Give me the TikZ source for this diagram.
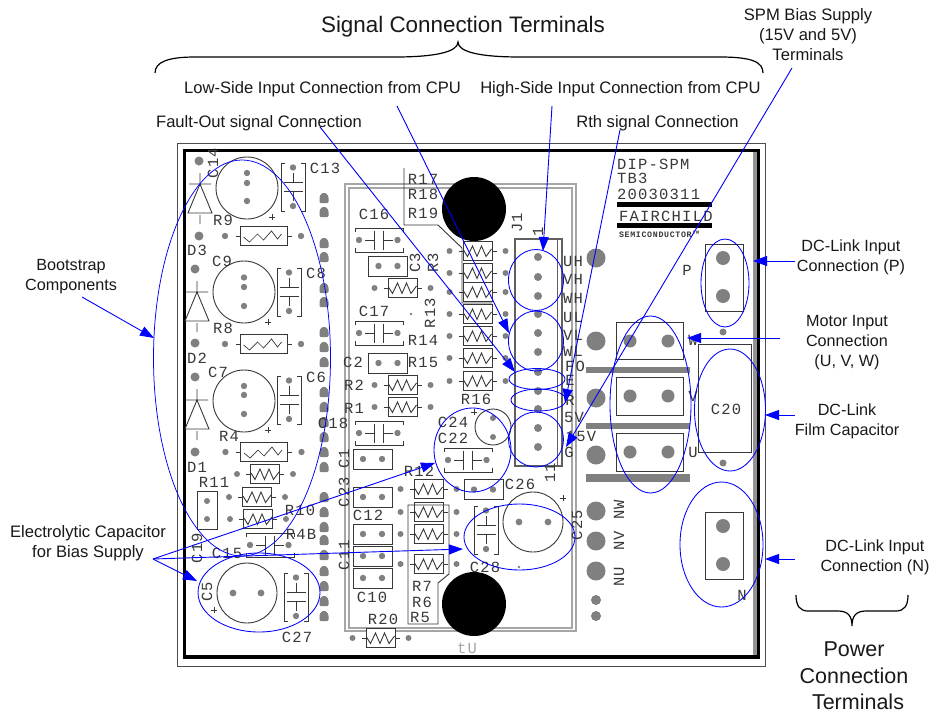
\documentclass[tikz,border=0pt]{standalone}
\usepackage{fontspec}
\setmainfont{Liberation Sans}
\newfontfamily\pcbfont[LetterSpace=8]{Liberation Mono}
\usetikzlibrary{arrows.meta,shapes.geometric}
\definecolor{padgray}{HTML}{808080}
\definecolor{ink}{HTML}{383838}
\definecolor{note}{RGB}{0,0,255}
\tikzset{
  every node/.style={inner sep=0pt,outer sep=0pt},
  pcbline/.style={draw=ink,line width=0.9pt},
  pad/.style={fill=padgray,draw=none},
  pcbtxt/.style={text=ink,font=\pcbfont\fontsize{15.5}{15.5}\selectfont},
  lab/.style={font=\fontsize{16.6}{20}\selectfont,align=center,text=black!90},
  labr/.style={font=\fontsize{16.2}{20}\selectfont,align=center,text=black!90},
  bigl/.style={font=\fontsize{21.5}{26.5}\selectfont,align=center,text=black!90},
  sigl/.style={font=\fontsize{22.4}{26.5}\selectfont,align=center,text=black!90},
  ring/.style={ellipse,draw=note,line width=0.85pt},
  thinarrow/.style={draw=note,line width=0.9pt,-{Triangle[length=14pt,width=10pt,fill=note]}},
  bracecurve/.style={draw=black,line width=1.2pt}
}
% board text
\newcommand\pl[3]{\node[pcbtxt] (t#1) at (#2,#3) {#1};}
\newcommand\plr[3]{\node[pcbtxt,rotate=90] (t#1) at (#2,#3) {#1};}
\newcommand\pcbplus[2]{\draw[pcbline] (#1-3,#2) -- (#1+3,#2) (#1,#2-3) -- (#1,#2+3);}
% pads
\newcommand\padc[3]{\fill[pad] (#1,#2) circle (#3);}
\newcommand\housepad[2]{\fill[pad,rounded corners=1.2pt] (#1-4.5,#2+5) -- (#1+4.5,#2+5) -- (#1+4.5,#2-1.5) -- (#1+2,#2-5) -- (#1-2,#2-5) -- (#1-4.5,#2-1.5) -- cycle;}
% small resistor
\newcommand\rsmall[2]{\begin{scope}[shift={(#1,#2)}]
 \draw[pcbline,fill=white] (-14.5,-9.5) rectangle (14.5,9.5);
 \draw[pcbline] (-19,0) -- (-14.5,0) (14.5,0) -- (19,0);
 \draw[pcbline] (-14,-1) -- (-10,5.5) -- (-5,-5) -- (-0.5,5.5) -- (4,-5) -- (8.5,5.5) -- (14,-2);
 \padc{-28}{0}{3} \padc{28}{0}{3}
\end{scope}}
% wide resistor
\newcommand\rwide[2]{\begin{scope}[shift={(#1,#2)}]
 \draw[pcbline,fill=white] (-23.5,-9.5) rectangle (23.5,9.5);
 \draw[pcbline] (-28,0) -- (-23.5,0) (23.5,0) -- (28,0);
 \draw[pcbline,line width=0.7pt] (-20,1) -- (-14,6) -- (-6,-2) -- (0,4) -- (8,-5) -- (14,3) -- (18,-2);
 \padc{-38.5}{0}{3.2} \padc{37.5}{0}{3.2}
\end{scope}}
% vertical-plate capacitor in bracket, pads above and below
\newcommand\vcapa[2]{\begin{scope}[shift={(#1,#2)}]
 \draw[pcbline] (-8,-24) -- (-12,-24) -- (-12,24) -- (-8,24);
 \draw[pcbline] (8,-24) -- (12,-24) -- (12,24) -- (8,24);
 \draw[pcbline] (-9.5,-4.5) -- (9.5,-4.5) (-9.5,4.5) -- (9.5,4.5) (0,-14) -- (0,-4.5) (0,4.5) -- (0,14);
 \padc{0}{-19.5}{3.2} \padc{0}{19}{3.2}
\end{scope}}
% horizontal capacitor
\newcommand\hcapa[2]{\begin{scope}[shift={(#1,#2)}]
 \draw[pcbline] (-24,-8) -- (-24,-12) -- (24,-12) -- (24,-8);
 \draw[pcbline] (-24,8) -- (-24,12) -- (24,12) -- (24,8);
 \draw[pcbline] (-4.5,-9.5) -- (-4.5,9.5) (4.5,-9.5) -- (4.5,9.5) (-14,0) -- (-4.5,0) (4.5,0) -- (14,0);
 \padc{-20}{0}{3.2} \padc{18.5}{0}{3.2}
\end{scope}}
% two-pad box
\newcommand\boxtwo[2]{\begin{scope}[shift={(#1,#2)}]
 \draw[pcbline] (-19.5,-10) rectangle (19.5,10);
 \padc{-9.5}{0}{3.2} \padc{9.5}{0}{3.2}
\end{scope}}
% diode
\newcommand\diode[2]{\begin{scope}[shift={(#1,#2)}]
 \draw[pcbline] (0,-11) -- (0,0) (-11,0) -- (11,0) (0,0) -- (-12,29) -- (12,29) -- cycle (0,31) -- (0,40);
\end{scope}}
% electrolytic capacitor
\newcommand\ecap[3]{\draw[pcbline] (#1,#2) circle (#3);}
\begin{document}
\begin{tikzpicture}[x=1pt,y=-1pt]
\path[use as bounding box,fill=white] (0,0) rectangle (937,717);
% ---------- board outlines
\draw[draw=black!70,line width=0.9pt] (177.5,143.5) rectangle (765,666);
\fill[gray!85] (753,150) rectangle (757.5,657);
\draw[draw=black,line width=3.6pt] (184.5,150.5) rectangle (758.5,657);
\draw[draw=gray!70,line width=1.1pt] (345,184) rectangle (576,631);
\draw[draw=gray!70,line width=1.1pt] (349,188) rectangle (572,628);
% ---------- black mounting holes
\fill[black] (474,209) circle (32);
\fill[black] (474,604) circle (32);
% ---------- left column
\padc{199}{161}{4.5} \padc{199}{236}{4.5} \padc{195}{269}{4.5} \padc{195}{343}{4.5} \padc{195}{377}{4.5} \padc{195}{452}{4.5}
\diode{200}{184} \diode{197}{292} \diode{197}{400}
\ecap{247}{188}{31} \padc{247}{173}{3.2} \padc{247}{183}{3.2} \padc{247}{201}{3.2} \pcbplus{272}{217}
\ecap{244}{292}{31} \padc{244}{277.5}{3.2} \padc{244}{287}{3.2} \padc{244}{306}{3.2} \pcbplus{268}{322}
\ecap{244}{401}{31} \padc{244}{386}{3.2} \padc{244}{395}{3.2} \padc{244}{414}{3.2} \pcbplus{268}{430}
\vcapa{293}{187} \vcapa{289}{292} \vcapa{289}{400}
\rwide{263.5}{236} \rwide{263.5}{344} \rwide{264}{452}
\rsmall{265}{474} \rsmall{257}{497} \rsmall{258}{519}
\draw[pcbline] (197,491) rectangle (217,529); \padc{207}{501}{3} \padc{207}{519}{3}
\hcapa{270}{545}
\ecap{247}{593}{30} \padc{233}{593}{3.4} \padc{261}{593}{3.4} \pcbplus{214}{610}
\vcapa{296}{597}
% gray house pads
\foreach \yy in {198,212,243,257,288,302,332,347,362,392,407,422,437,452,467,497,512,527,540,555,571,586,601,616} {\housepad{324}{\yy}}
% ---------- centre-left
\hcapa{379}{240} \boxtwo{388}{266} \rsmall{402.5}{288}
\hcapa{379}{333} \padc{411}{314}{1.3} \boxtwo{388}{363} \rsmall{402.5}{385} \rsmall{402.5}{407}
\hcapa{379}{433}
\boxtwo{372.5}{459} \boxtwo{372.5}{497} \boxtwo{372.5}{534} \boxtwo{372.5}{556} \boxtwo{372.5}{578}
\rsmall{380.5}{638}
% ---------- resistor column
\foreach \yy in {251,273,292,314,336,358,381} {\rsmall{477.5}{\yy}}
\draw[pcbline] (404,168) -- (404,225) -- (438,225) -- (462,248) -- (462,303) -- (492,303);
\foreach \yy in {489,512,534,564} {\rsmall{428.5}{\yy}}
\draw[pcbline] (408,505) -- (449,505) -- (449,574) -- (438,583) -- (438,624) -- (408,624) -- cycle;
% ---------- C24, C22, C26, C28
\ecap{493}{427}{18} \padc{493}{418}{3} \padc{493}{437}{3} \pcbplus{474}{412}
\hcapa{468}{460}
\boxtwo{483.5}{489.5}
\ecap{533}{522}{30} \padc{519}{522}{3.4} \padc{548}{522}{3.4} \pcbplus{563}{498}
\vcapa{486}{530} \padc{519}{567}{1.3}
% ---------- J1
\draw[draw=ink!80,line width=1.2pt] (515,239) rectangle (562,466);
\draw[draw=ink!80,line width=1pt] (557,239) -- (557,466);
\foreach \yy in {257,277,296,314,333,352,372,391,409,428,447} {\padc{538}{\yy}{4}}
% large pads and bars
\padc{596}{258}{9.5} \padc{596}{341}{9.5} \padc{596}{398}{9.5} \padc{596}{455}{9.5} \padc{596}{511}{9.5} \padc{596}{541}{9.5} \padc{596}{571}{9.5}
\padc{596}{600}{5} \padc{596}{616}{5}
\fill[padgray] (586,367) rectangle (690,373);
\fill[padgray] (586,423) rectangle (690,429);
\fill[padgray] (586,474) rectangle (690,482);
% ---------- right side terminals
\foreach \ya/\yb/\yp in {322/359/341,377/415/396,433/471/452} {
 \draw[pcbline] (616,\ya) rectangle (683,\yb);
 \padc{630}{\yp}{6.5} \padc{668}{\yp}{6.5}
}
\draw[pcbline] (705,244) rectangle (743,311); \padc{723}{258}{7} \padc{723}{296}{7} \padc{723}{332}{3.5}
\draw[pcbline] (698,344) rectangle (751,452); \padc{723}{463}{3.5}
\draw[pcbline] (705,512) rectangle (743,579); \padc{723}{526}{7} \padc{723}{564}{7}
\fill[black] (617,202) rectangle (712,207);
\fill[black] (617,223) rectangle (712,228);
% ---------- board texts
\pl{C13}{325}{168} \pl{C9}{222}{261} \pl{C8}{316}{273} \pl{C7}{218}{372} \pl{C6}{316}{377}
\pl{D3}{197}{250} \pl{D2}{197}{358} \pl{D1}{197}{467}
\pl{R9}{223}{220} \pl{R8}{223}{328} \pl{R4}{229}{436}
\pl{R11}{214}{482} \pl{R10}{300}{510} \pl{R4B}{301}{534} \pl{C15}{227}{553}
\plr{C14}{213}{163} \plr{C19}{197}{548} \plr{C5}{207}{592} \pl{C27}{297}{637}
\pl{C16}{374}{214} \pl{C17}{374}{311}
\plr{C3}{415}{263} \plr{R3}{433}{263} \plr{R13}{430}{313}
\pl{R14}{423}{340} \pl{R15}{423}{362} \pl{C2}{353}{362} \pl{R2}{354}{385} \pl{R1}{354}{408}
\pl{C18}{333}{423} \plr{C1}{344}{459} \plr{C23}{344}{492} \plr{C11}{344}{555}
\pl{C12}{368}{515} \pl{C10}{372}{597} \pl{R20}{383}{619} \pl{R12}{419}{471}
\pl{R7}{422}{586} \pl{R6}{422}{602} \pl{R5}{420}{617}
\pl{R17}{423}{179} \pl{R18}{423}{194} \pl{R19}{423}{213} \pl{R16}{476}{399}
\pl{C24}{453}{422} \pl{C22}{453}{438} \pl{C26}{520}{484} \pl{C28}{485}{567} \plr{C25}{577}{525}
\plr{J1}{517}{223} \node[pcbtxt,rotate=90] (tone) at (538,232) {1}; \node[pcbtxt,rotate=90] (televen) at (550,473) {11};
\pl{UH}{573}{261} \pl{VH}{573}{279} \pl{WH}{573}{298} \pl{UL}{573}{317} \pl{VL}{573}{335} \pl{WL}{573}{351} \pl{FO}{575}{366}
\pl{E}{570}{380} \pl{R}{570}{400} \pl{5V}{574}{417} \pl{15V}{581}{436} \pl{G}{569}{452}
\plr{NW}{619}{510} \plr{NV}{619}{541} \plr{NU}{619}{577}
\pl{P}{687}{270} \pl{W}{693}{340} \pl{V}{693}{396} \pl{U}{693}{452} \pl{N}{742}{595} \pl{C20}{726}{409}
\node[pcbtxt,text=gray!70] (ttU) at (467,648) {tU};
\node[pcbtxt,anchor=west] (tDIP) at (617,164) {DIP-SPM};
\node[pcbtxt,anchor=west] (tTB) at (617,178) {TB3};
\node[pcbtxt,anchor=west] (tDATE) at (617,194) {20030311};
\node[pcbtxt,anchor=west] (tFAIR) at (619,216) {FAIRCHILD};
\node[text=ink,anchor=west,font=\bfseries\pcbfont\fontsize{8.3}{8.3}\selectfont] (tSEMI) at (619,234) {SEMICONDUCTOR\textsuperscript{\,\tiny TM}};
% ---------- blue rings
\node[ring,minimum width=48pt,minimum height=88pt] (rP) at (725,283) {};
\node[ring,minimum width=71pt,minimum height=122pt] (rFilm) at (730,410) {};
\node[ring,minimum width=81pt,minimum height=177pt] (rMotor) at (650.5,404.5) {};
\node[ring,minimum width=83pt,minimum height=125pt] (rN) at (721.5,544.5) {};
\node[ring,minimum width=177pt,minimum height=396pt,line width=0.75pt] (rBoot) at (242,358) {};
\node[ring,minimum width=122pt,minimum height=79pt] (rCfive) at (259,592.5) {};
\node[ring,minimum width=77pt,minimum height=84pt] (rCtwo) at (472.5,450) {};
\node[ring,minimum width=111pt,minimum height=66pt] (rCtf) at (519.5,537) {};
\node[ring,minimum width=55pt,minimum height=61pt] (rHigh) at (536,280) {};
\node[ring,minimum width=55pt,minimum height=60pt] (rLow) at (536,341) {};
\node[ring,minimum width=56pt,minimum height=21pt] (rFo) at (537,379) {};
\node[ring,minimum width=55pt,minimum height=22pt] (rRth) at (538.5,400) {};
\node[ring,minimum width=55pt,minimum height=55pt] (rBias) at (536,439.5) {};
% ---------- texts
\node[sigl] (lSignal) at (463,27) {Signal Connection Terminals};
\node[lab] (lLow) at (322.5,89) {Low-Side Input Connection from CPU};
\node[lab] (lHigh) at (620.5,89) {High-Side Input Connection from CPU};
\node[lab] (lFault) at (259,123) {Fault-Out signal Connection};
\node[lab] (lRth) at (657.5,123) {Rth signal Connection};
\node[lab] (lSPM) at (808,35) {SPM Bias Supply\\(15V and 5V)\\Terminals};
\node[labr] (lBoot) at (71,277) {Bootstrap\\Components};
\node[lab] (lElec) at (88,543) {Electrolytic Capacitor\\for Bias Supply};
\node[labr] (lP) at (851,257) {DC-Link Input\\Connection (P)};
\node[labr] (lMotor) at (847,343) {Motor Input\\Connection\\(U, V, W)};
\node[labr] (lFilm) at (847,421) {DC-Link\\Film Capacitor};
\node[labr] (lN) at (875,557) {DC-Link Input\\Connection (N)};
\node[bigl] (lPower) at (854,676) {Power\\Connection\\\hspace{8pt}Terminals};
% ---------- braces
\draw[bracecurve] (155,73) .. controls (155,62) and (168,57) .. (195,57) -- (395,57) .. controls (435,57) and (458,52) .. (458,42) .. controls (458,52) and (480,57) .. (520,57) -- (720,57) .. controls (752,57) and (763,62) .. (763,73);
\draw[bracecurve] (796,595) .. controls (796,606) and (800,611) .. (808,611) -- (838,611) .. controls (848,611) and (852,616) .. (852,626) .. controls (852,616) and (856,611) .. (866,611) -- (896,611) .. controls (904,611) and (908,606) .. (908,595);
% ---------- connector end points
\coordinate (sLow) at (397,106); \coordinate (eLow) at (509,333);
\coordinate (sHigh) at (552,106); \coordinate (eHigh) at (543,251);
\coordinate (sFault) at (320,127); \coordinate (eFault) at (515,372);
\coordinate (sRth) at (620,130); \coordinate (eRth) at (565,403);
\coordinate (sSPM) at (792,68); \coordinate (eSPM) at (566,447);
\coordinate (sP) at (795,261); \coordinate (eP) at (753,261);
\coordinate (sMotor) at (780,338); \coordinate (eMotor) at (687,338);
\coordinate (sFilm) at (795,415); \coordinate (eFilm) at (765,415);
\coordinate (sN) at (795,559); \coordinate (eN) at (765,559);
\coordinate (sBoot) at (82,297); \coordinate (eBoot) at (154,338);
\coordinate (sElec) at (153,559); \coordinate (eEa) at (197,581); \coordinate (eEb) at (435,463); \coordinate (eEc) at (463,549);
% ---------- connectors
\foreach \a/\b in {sLow/eLow,sHigh/eHigh,sFault/eFault,sRth/eRth,sSPM/eSPM,sP/eP,sMotor/eMotor,sFilm/eFilm,sN/eN,sBoot/eBoot,sElec/eEa,sElec/eEb,sElec/eEc}
  {\draw[thinarrow] (\a) -- (\b);}
\end{tikzpicture}
\end{document}
